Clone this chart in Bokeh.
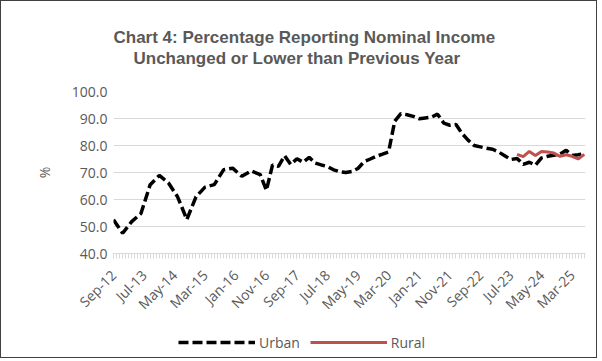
import pandas as pd
from math import pi
from bokeh.plotting import figure
from bokeh.layouts import column
from bokeh.models import (Range1d, FixedTicker, DatetimeTickFormatter, NumeralTickFormatter,
                          Legend, LegendItem, Title, ColumnDataSource)
from bokeh.embed import file_html
from bokeh.resources import INLINE

# ---------------- data ----------------
urban_dates = [
    "2012-09", "2012-12", "2013-03", "2013-06", "2013-09", "2013-12", "2014-03", "2014-06",
    "2014-09", "2014-12", "2015-03", "2015-06", "2015-09", "2015-12", "2016-03", "2016-06",
    "2016-09", "2016-11",
    "2017-01", "2017-03", "2017-05", "2017-07", "2017-09", "2017-11",
    "2018-01", "2018-03", "2018-05", "2018-07", "2018-09", "2018-11",
    "2019-01", "2019-03", "2019-05", "2019-07", "2019-09", "2019-11",
    "2020-01", "2020-03", "2020-05", "2020-07", "2020-09", "2020-11",
    "2021-01", "2021-03", "2021-05", "2021-07", "2021-09", "2021-11",
    "2022-01", "2022-03", "2022-05", "2022-07", "2022-09", "2022-11",
    "2023-01", "2023-03", "2023-05", "2023-07", "2023-09", "2023-11",
    "2024-01", "2024-03", "2024-05", "2024-07", "2024-09", "2024-11",
    "2025-01", "2025-03", "2025-05", "2025-07",
]
urban_values = [
    52.5, 47.5, 51.8, 54.8, 65.5, 68.9, 66.2, 61.0,
    52.6, 61.0, 64.6, 65.5, 71.0, 71.6, 68.6, 70.6,
    69.2, 63.4,
    72.8, 72.3, 76.2, 73.0, 75.1, 73.8,
    75.6, 73.5, 72.8, 72.2, 71.0, 70.3,
    70.0, 70.4, 71.5, 74.0, 75.0, 76.0,
    76.8, 77.6, 89.0, 91.8, 91.4, 90.8,
    89.9, 90.2, 90.5, 91.6, 88.3, 87.5,
    87.8, 84.5, 82.0, 80.0, 79.5, 79.0,
    78.6, 77.6, 76.2, 74.8, 75.2, 73.0,
    73.8, 72.7, 75.4, 76.0, 76.4, 76.8,
    78.2, 76.3, 76.6, 77.0,
]
rural_dates = [
    "2023-09", "2023-11", "2024-01", "2024-03", "2024-05", "2024-07",
    "2024-09", "2024-11", "2025-01", "2025-03", "2025-05", "2025-07",
]
rural_values = [76.7, 75.9, 77.8, 76.3, 77.8, 77.6, 77.2, 76.0, 76.6, 76.0, 75.0, 76.7]

tick_dates = ["2012-09", "2013-07", "2014-05", "2015-03", "2016-01", "2016-11", "2017-09",
              "2018-07", "2019-05", "2020-03", "2021-01", "2021-11", "2022-09", "2023-07",
              "2024-05", "2025-03"]
y_ticks = [40, 50, 60, 70, 80, 90, 100]

title_line1 = "Chart 4: Percentage Reporting Nominal Income"
title_line2 = "Unchanged or Lower than Previous Year"
series_names = ["Urban", "Rural"]

# ---------------- styles ----------------
GRAY = "#595959"
LIGHT = "#d9d9d9"
FONT = "Open Sans"
URBAN_STYLE = dict(line_color="black", line_width=3.5, line_dash="10 4", line_cap="butt")
RURAL_STYLE = dict(line_color="#C0504D", line_width=3)

def ms(s):
    return pd.Timestamp(s + "-01").value / 1e6

urban_src = ColumnDataSource(dict(x=pd.to_datetime([d + "-01" for d in urban_dates]), y=urban_values))
rural_src = ColumnDataSource(dict(x=pd.to_datetime([d + "-01" for d in rural_dates]), y=rural_values))

x_start = pd.Timestamp("2012-09-01")
x_end = pd.Timestamp("2025-07-13")

# ---------------- main chart ----------------
p = figure(x_axis_type="datetime", output_backend="svg", toolbar_location=None,
           frame_width=472, frame_height=162,
           min_border_left=112, min_border_right=11, min_border_top=90, min_border_bottom=78,
           x_range=Range1d(x_start, x_end), y_range=Range1d(40, 100))
p.background_fill_color = "white"
p.border_fill_color = "white"
p.outline_line_color = None

minor = [pd.Timestamp(t).value / 1e6 for t in pd.date_range("2012-09-01", "2025-07-01", freq="MS")]
p.xaxis.ticker = FixedTicker(ticks=[ms(t) for t in tick_dates], minor_ticks=minor)
fmt = "%b-%y"
p.xaxis.formatter = DatetimeTickFormatter(microseconds=fmt, milliseconds=fmt, seconds=fmt,
                                          minsec=fmt, minutes=fmt, hourmin=fmt, hours=fmt,
                                          days=fmt, months=fmt, years=fmt)
p.xaxis.major_label_orientation = pi / 4
p.xaxis.major_label_text_font = FONT
p.xaxis.major_label_text_font_size = "14px"
p.xaxis.major_label_text_color = GRAY
p.xaxis.axis_line_color = LIGHT
p.xaxis.major_tick_line_color = LIGHT
p.xaxis.minor_tick_line_color = LIGHT
p.xaxis.major_tick_in = 0
p.xaxis.major_tick_out = 5
p.xaxis.minor_tick_in = 0
p.xaxis.minor_tick_out = 5
p.xaxis.major_label_standoff = 14

p.yaxis.ticker = FixedTicker(ticks=y_ticks)
p.yaxis.formatter = NumeralTickFormatter(format="0.0")
p.yaxis.major_label_text_font = FONT
p.yaxis.major_label_text_font_size = "14px"
p.yaxis.major_label_text_color = GRAY
p.yaxis.axis_line_color = None
p.yaxis.major_tick_line_color = None
p.yaxis.minor_tick_line_color = None
p.yaxis.major_label_standoff = 0
p.yaxis.axis_label = "%"
p.yaxis.axis_label_text_font = FONT
p.yaxis.axis_label_text_font_style = "normal"
p.yaxis.axis_label_text_font_size = "14px"
p.yaxis.axis_label_text_color = GRAY
p.yaxis.axis_label_standoff = 15

p.xgrid.grid_line_color = None
p.ygrid.grid_line_color = LIGHT
p.ygrid.grid_line_width = 1

p.line("x", "y", source=urban_src, **URBAN_STYLE)
p.line("x", "y", source=rural_src, **RURAL_STYLE)

title_style = dict(align="left", text_font="Liberation Sans", text_font_size="17px",
                   text_font_style="bold", text_color=GRAY)
p.title = None
p.add_layout(Title(text=" ", offset=0, standoff=3, **title_style), "above")
p.add_layout(Title(text=title_line2, offset=20, standoff=0, **title_style), "above")
p.add_layout(Title(text=title_line1, offset=0, standoff=0, **title_style), "above")

# ---------------- legend strip ----------------
lg = figure(width=595, height=26, min_border=0, output_backend="svg", toolbar_location=None,
            x_axis_location=None, y_axis_location=None,
            x_range=Range1d(0, 1), y_range=Range1d(0, 1))
lg.outline_line_color = None
lg.grid.visible = False
lg.background_fill_color = "white"
lg.border_fill_color = "white"
nan = float("nan")
lr_urban = lg.line(x=[nan], y=[nan], **URBAN_STYLE)
lr_rural = lg.line(x=[nan], y=[nan], **RURAL_STYLE)
legend = Legend(items=[LegendItem(label=series_names[0], renderers=[lr_urban]),
                       LegendItem(label=series_names[1], renderers=[lr_rural])],
                location=(65, 5), orientation="horizontal", padding=0, margin=0,
                glyph_width=77, glyph_height=20, label_standoff=4, spacing=10,
                border_line_color=None, background_fill_alpha=0,
                label_text_font=FONT, label_text_font_size="14px", label_text_color=GRAY)
lg.add_layout(legend, "center")

layout = column(p, lg, spacing=0, styles={"border": "1px solid #404040"})

open("out.html", "w").write(file_html(layout, INLINE))
